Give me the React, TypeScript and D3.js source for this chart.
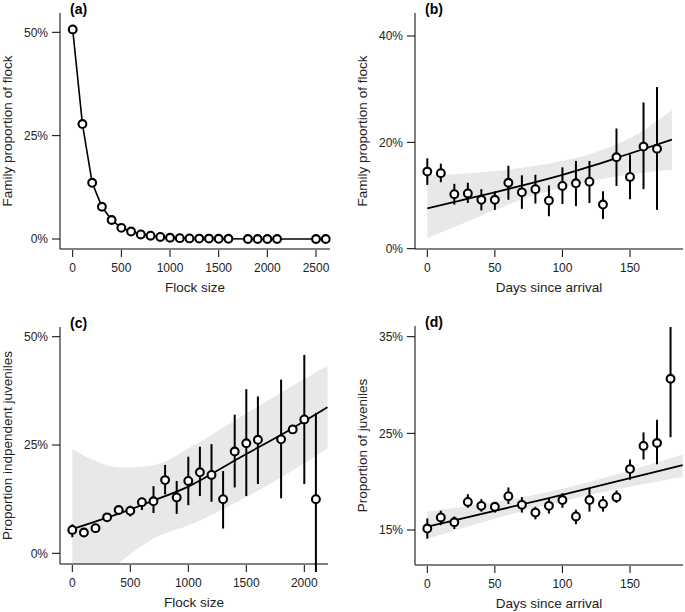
import * as React from "react";
import * as d3 from "d3";

// ---- data (percent) ----
const flockA = [0, 100, 200, 300, 400, 500, 600, 700, 800, 900, 1000, 1100, 1200, 1300, 1400, 1500, 1600, 1800, 1900, 2000, 2100, 2500, 2600];
const famPropA = [50.7, 27.8, 13.6, 7.8, 4.6, 2.7, 1.8, 1.1, 0.8, 0.5, 0.3, 0.2, 0.15, 0.1, 0.1, 0.05, 0.05, 0, 0, 0, 0, 0, 0];

const daysB = [0, 10, 20, 30, 40, 50, 60, 70, 80, 90, 100, 110, 120, 130, 140, 150, 160, 170];
const meanB = [14.5, 14.2, 10.25, 10.4, 9.2, 9.2, 12.4, 10.6, 11.2, 9.05, 11.8, 12.3, 12.6, 8.3, 17.2, 13.5, 19.2, 18.8];
const lowB = [12.0, 12.5, 8.3, 8.6, 7.2, 7.3, 9.2, 7.5, 8.5, 6.1, 8.4, 8.0, 8.6, 5.6, 11.8, 9.3, 11.2, 7.3];
const highB = [17.0, 16.0, 12.2, 12.4, 11.2, 10.8, 15.6, 13.8, 13.9, 11.9, 15.3, 16.5, 16.5, 10.8, 22.6, 17.7, 27.5, 30.4];
const fitDaysB = [0, 25, 50, 75, 100, 125, 150, 181];
const fitB = [7.6, 9.1, 10.6, 12.2, 13.9, 15.8, 17.9, 20.5];
const bandHiB = [13.8, 14.1, 14.6, 15.4, 16.5, 18.2, 20.8, 26.1];
const bandLoB = [2.0, 4.6, 7.3, 9.7, 11.5, 12.9, 14.0, 14.8];

const flockC = [0, 100, 200, 300, 400, 500, 600, 700, 800, 900, 1000, 1100, 1200, 1300, 1400, 1500, 1600, 1800, 1900, 2000, 2100];
const meanC = [5.4, 4.8, 5.8, 8.3, 10.0, 9.8, 11.8, 12.0, 16.9, 12.9, 16.7, 18.7, 18.1, 12.5, 23.5, 25.4, 26.2, 26.3, 28.6, 30.9, 12.5];
const lowC = [3.7, 4.3, 5.3, 7.8, 9.2, 8.5, 10.0, 9.3, 13.6, 9.1, 11.1, 13.2, 11.9, 5.7, 15.2, 13.2, 16.0, 12.7, 28.0, 16.0, -4.3];
const highC = [6.7, 5.2, 6.3, 8.8, 10.8, 11.0, 12.8, 15.5, 20.4, 16.7, 22.3, 24.6, 25.2, 19.0, 32.0, 37.9, 36.2, 40.1, 29.2, 45.8, 32.4];
const fitFlockC = [0, 425, 713, 1000, 1431, 1862, 2200];
const fitC = [5.6, 9.4, 12.3, 15.4, 21.9, 28.3, 33.7];
const bandHiC = [24.0, 19.8, 20.4, 24.2, 31.2, 38.1, 43.3];
const bandLoC = [-12.8, -1.8, 3.6, 6.4, 12.0, 18.5, 24.2];

const daysD = [0, 10, 20, 30, 40, 50, 60, 70, 80, 90, 100, 110, 120, 130, 140, 150, 160, 170, 180];
const meanD = [15.15, 16.3, 15.8, 17.9, 17.5, 17.4, 18.5, 17.6, 16.8, 17.5, 18.1, 16.4, 18.1, 17.7, 18.4, 21.3, 23.7, 24.0, 30.65];
const lowD = [14.1, 15.5, 15.1, 17.3, 16.9, 16.8, 17.7, 16.8, 16.1, 16.7, 17.3, 15.6, 16.9, 16.9, 17.8, 20.2, 22.3, 21.8, 24.6];
const highD = [16.2, 17.0, 16.4, 18.7, 18.2, 17.9, 19.4, 18.4, 17.4, 18.3, 18.8, 17.1, 19.3, 18.5, 19.1, 22.3, 25.1, 26.4, 36.0];
const fitDaysD = [0, 90, 189];
const fitD = [15.35, 18.3, 21.7];
const bandHiD = [16.9, 18.95, 22.8];
const bandLoD = [14.1, 17.65, 20.5];

const FONT = "'Liberation Sans', Arial, Helvetica, sans-serif";
const BAND = "#e8e8e8";

interface Box { left: number; right: number; top: number; bottom: number }

interface PanelProps {
  id: string;
  tag: string;
  box: Box;
  x: d3.ScaleLinear<number, number>;
  y: d3.ScaleLinear<number, number>;
  xTicks: number[];
  yTicks: number[];
  xTitle: string;
  yTitle: string;
  children?: React.ReactNode;
}

const Panel = ({ id, tag, box, x, y, xTicks, yTicks, xTitle, yTitle, children }: PanelProps) => {
  const midY = (box.top + box.bottom) / 2;
  const midX = (box.left + box.right) / 2;
  return (
    <g>
      <defs>
        <clipPath id={`clip-${id}`}>
          <rect x={box.left} y={box.top} width={box.right - box.left} height={box.bottom - box.top} />
        </clipPath>
      </defs>
      {children}
      <path d={`M${box.left},${box.top}V${box.bottom}H${box.right}`} fill="none" stroke="#000" strokeWidth={1} />
      {yTicks.map(t => (
        <g key={"y" + t}>
          <line x1={box.left - 8} x2={box.left} y1={y(t)} y2={y(t)} stroke="#000" />
          <text x={box.left - 12} y={y(t)} dy="0.35em" textAnchor="end" fontSize={12} fill="#222">{t + "%"}</text>
        </g>
      ))}
      {xTicks.map(t => (
        <g key={"x" + t}>
          <line x1={x(t)} x2={x(t)} y1={box.bottom + 1} y2={box.bottom + 8} stroke="#000" />
          <text x={x(t)} y={box.bottom + 23} textAnchor="middle" fontSize={12} fill="#222">{t}</text>
        </g>
      ))}
      <text x={midX} y={box.bottom + 43} textAnchor="middle" fontSize={13.5} fill="#222">{xTitle}</text>
      <text transform={`translate(${box.left - 48},${midY}) rotate(-90)`} textAnchor="middle" fontSize={13.5} fill="#222">{yTitle}</text>
      <text x={box.left + 10} y={box.top + 1} fontSize={14} fontWeight="bold">{tag}</text>
    </g>
  );
};

const Points = ({ xs, ys, x, y }: { xs: number[]; ys: number[]; x: any; y: any }) => (
  <g>
    {xs.map((v, i) => (
      <circle key={i} cx={x(v)} cy={y(ys[i])} r={3.9} fill="#fff" stroke="#000" strokeWidth={2.1} />
    ))}
  </g>
);

const ErrBars = ({ xs, lo, hi, x, y }: { xs: number[]; lo: number[]; hi: number[]; x: any; y: any }) => (
  <g>
    {xs.map((v, i) => (
      <line key={i} x1={x(v)} x2={x(v)} y1={y(lo[i])} y2={y(hi[i])} stroke="#000" strokeWidth={2} />
    ))}
  </g>
);

const FitBand = ({ id, xs, fit, lo, hi, x, y }: { id: string; xs: number[]; fit: number[]; lo: number[]; hi: number[]; x: any; y: any }) => {
  const area = d3.area<number>()
    .x((_, i) => x(xs[i]))
    .y0((_, i) => y(lo[i]))
    .y1((_, i) => y(hi[i]))
    .curve(d3.curveMonotoneX);
  const line = d3.line<number>()
    .x((_, i) => x(xs[i]))
    .y(d => y(d))
    .curve(d3.curveMonotoneX);
  return (
    <g clipPath={`url(#clip-${id})`}>
      <path d={area(fit) || ""} fill={BAND} />
      <path d={line(fit) || ""} fill="none" stroke="#000" strokeWidth={1.8} />
    </g>
  );
};

export default function App() {
  const boxA: Box = { left: 60, right: 330, top: 13, bottom: 249 };
  const xA = d3.scaleLinear().domain([0, 2500]).range([72.7, 316]);
  const yA = d3.scaleLinear().domain([0, 50]).range([239, 32.3]);

  const boxB: Box = { left: 415, right: 683, top: 13, bottom: 249 };
  const xB = d3.scaleLinear().domain([0, 150]).range([427.3, 630]);
  const yB = d3.scaleLinear().domain([0, 40]).range([248.7, 36]);

  const boxC: Box = { left: 60, right: 328, top: 327, bottom: 564 };
  const xC = d3.scaleLinear().domain([0, 2000]).range([72.3, 304.3]);
  const yC = d3.scaleLinear().domain([0, 50]).range([553.3, 336.7]);

  const boxD: Box = { left: 415, right: 683, top: 326, bottom: 565 };
  const xD = d3.scaleLinear().domain([0, 150]).range([427.3, 630]);
  const yD = d3.scaleLinear().domain([15, 35]).range([530, 336.7]);

  const lineA = d3.line<number>().x((_, i) => xA(flockA[i])).y(d => yA(d));

  return (
    <svg width={685} height={612} style={{ position: "absolute", left: 0, top: 0, fontFamily: FONT, background: "#fff" }}>
      <rect width={685} height={612} fill="#fff" />

      <Panel id="a" tag="(a)" box={boxA} x={xA} y={yA} xTicks={[0, 500, 1000, 1500, 2000, 2500]} yTicks={[0, 25, 50]}
        xTitle="Flock size" yTitle="Family proportion of flock">
        <path d={lineA(famPropA) || ""} fill="none" stroke="#000" strokeWidth={1.6} />
        <Points xs={flockA} ys={famPropA} x={xA} y={yA} />
      </Panel>

      <Panel id="b" tag="(b)" box={boxB} x={xB} y={yB} xTicks={[0, 50, 100, 150]} yTicks={[0, 20, 40]}
        xTitle="Days since arrival" yTitle="Family proportion of flock">
        <FitBand id="b" xs={fitDaysB} fit={fitB} lo={bandLoB} hi={bandHiB} x={xB} y={yB} />
        <ErrBars xs={daysB} lo={lowB} hi={highB} x={xB} y={yB} />
        <Points xs={daysB} ys={meanB} x={xB} y={yB} />
      </Panel>

      <Panel id="c" tag="(c)" box={boxC} x={xC} y={yC} xTicks={[0, 500, 1000, 1500, 2000]} yTicks={[0, 25, 50]}
        xTitle="Flock size" yTitle="Proportion indpendent juveniles">
        <FitBand id="c" xs={fitFlockC} fit={fitC} lo={bandLoC} hi={bandHiC} x={xC} y={yC} />
        <ErrBars xs={flockC} lo={lowC} hi={highC} x={xC} y={yC} />
        <Points xs={flockC} ys={meanC} x={xC} y={yC} />
      </Panel>

      <Panel id="d" tag="(d)" box={boxD} x={xD} y={yD} xTicks={[0, 50, 100, 150]} yTicks={[15, 25, 35]}
        xTitle="Days since arrival" yTitle="Proportion of juveniles">
        <FitBand id="d" xs={fitDaysD} fit={fitD} lo={bandLoD} hi={bandHiD} x={xD} y={yD} />
        <ErrBars xs={daysD} lo={lowD} hi={highD} x={xD} y={yD} />
        <Points xs={daysD} ys={meanD} x={xD} y={yD} />
      </Panel>
    </svg>
  );
}
